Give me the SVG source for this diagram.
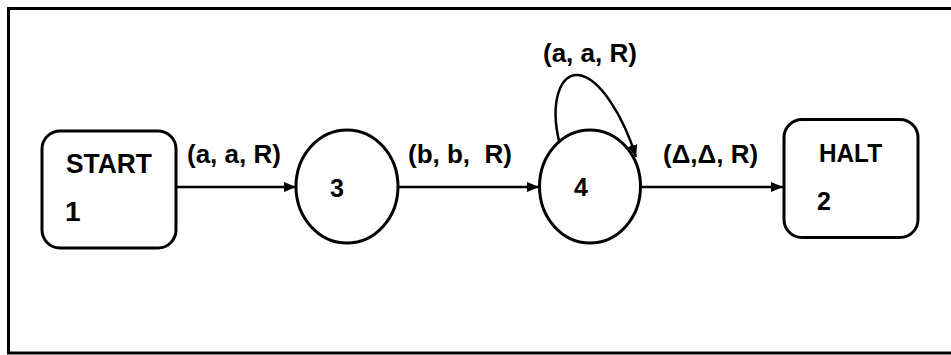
<svg xmlns="http://www.w3.org/2000/svg" width="951" height="355" viewBox="0 0 951 355">
<style>
.shape{fill:#fff;stroke:#000;stroke-width:3}
.edge{fill:none;stroke:#000;stroke-width:2.5}
.t{font-family:"Liberation Sans",Arial,sans-serif;font-weight:bold;fill:#000}
.lbl{font-size:26px}
.num{font-size:25px}
</style>
<defs>
<marker id="ah" markerUnits="userSpaceOnUse" markerWidth="14" markerHeight="12" refX="12" refY="5" orient="auto">
<path d="M0,0 L12,5 L0,10 z" fill="#000"/>
</marker>
</defs>
<rect x="8.5" y="8.5" width="960" height="344.5" fill="#fff" stroke="#000" stroke-width="3"/>
<g id="connectors">
<line class="edge" x1="177" y1="187" x2="296" y2="187" marker-end="url(#ah)"/>
<line class="edge" x1="398" y1="187" x2="539" y2="187" marker-end="url(#ah)"/>
<line class="edge" x1="641" y1="187" x2="783" y2="187" marker-end="url(#ah)"/>
<path class="edge" d="M559,141 C550,102 560,74 578,75 C600,77 624,118 636,157" marker-end="url(#ah)"/>
<text class="t lbl" x="187" y="163">(a, a, R)</text>
<text class="t lbl" x="408" y="163" xml:space="preserve">(b, b,  R)</text>
<text class="t lbl" x="663" y="163">(Δ,Δ, R)</text>
<text class="t lbl" x="543" y="62">(a, a, R)</text>
</g>
<g id="node-start">
<rect class="shape" x="42" y="131" width="134" height="117" rx="18"/>
<text class="t" font-size="27" x="66" y="173" textLength="86" lengthAdjust="spacingAndGlyphs">START</text>
<text class="t" font-size="28" x="65" y="221">1</text>
</g>
<g id="node-3">
<ellipse class="shape" cx="347" cy="186.5" rx="51" ry="56.5"/>
<text class="t num" x="330" y="196.5">3</text>
</g>
<g id="node-4">
<ellipse class="shape" cx="590" cy="186.5" rx="50.5" ry="56.5"/>
<text class="t num" x="574" y="196">4</text>
</g>
<g id="node-halt">
<rect class="shape" x="784" y="119.5" width="134" height="118" rx="18"/>
<text class="t" font-size="26" x="819" y="162" textLength="63" lengthAdjust="spacingAndGlyphs">HALT</text>
<text class="t num" x="817" y="209.5">2</text>
</g>
</svg>
